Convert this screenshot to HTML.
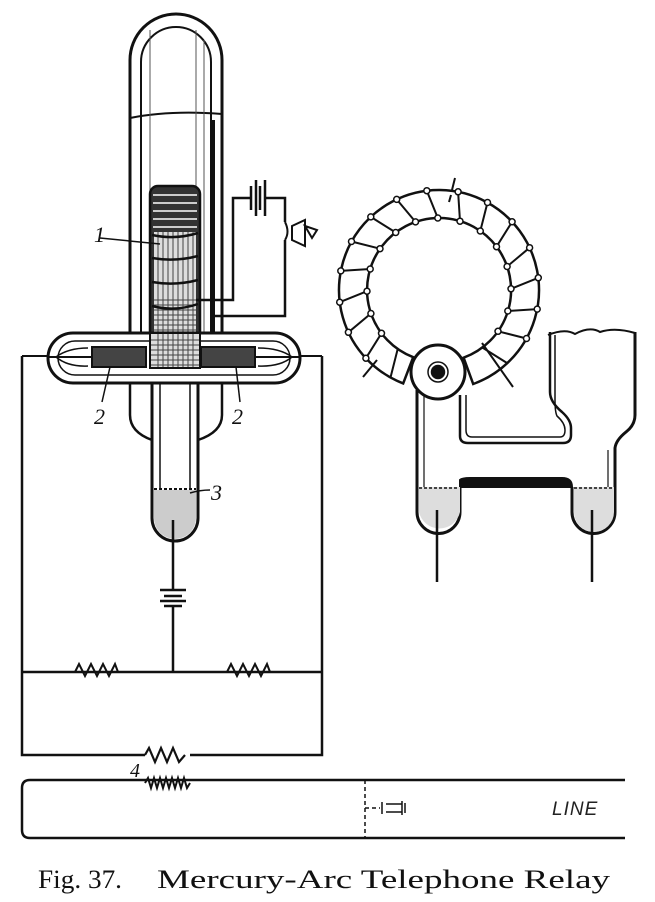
<!DOCTYPE html>
<html><head><style>body{margin:0;background:#fff}svg{display:block}</style></head><body>
<svg width="655" height="902" viewBox="0 0 655 902" xmlns="http://www.w3.org/2000/svg" fill="none" stroke="#111" stroke-width="2.5">
<!-- tall tube -->
<path d="M130 340 V60 A46 46 0 0 1 222 60 V340" stroke-width="3"/>
<path d="M141 340 V62 A35 35 0 0 1 211 62 V340" stroke-width="2"/>
<path d="M130 118 Q170 110 222 114" stroke-width="2"/>
<path d="M150 340 V30 M196 340 V30 M204 340 V40" stroke-width="1" stroke="#555"/>
<line x1="213" y1="120" x2="213" y2="333" stroke-width="4"/>
<!-- coil -->
<rect x="150" y="186" width="50" height="180" rx="8" fill="#333" stroke="#111"/>
<g stroke="#fff" stroke-width="1.4">
<line x1="153" y1="195" x2="197" y2="195"/><line x1="153" y1="203" x2="197" y2="203"/><line x1="153" y1="211" x2="197" y2="211"/><line x1="153" y1="219" x2="197" y2="219"/><line x1="153" y1="227" x2="197" y2="227"/>
</g>
<rect x="154" y="232" width="42" height="130" fill="#ddd" stroke="none"/>
<g stroke="#444" stroke-width="1"><path d="M158 232V362M163 232V362M168 232V362M173 232V362M178 232V362M183 232V362M188 232V362M193 232V362"/><path d="M154 300H196M154 305H196M154 310H196M154 315H196M154 320H196M154 325H196M154 330H196M154 335H196M154 340H196M154 345H196M154 350H196M154 355H196M154 360H196"/></g>
<path d="M152 235 Q175 240 198 233 M152 258 Q175 262 198 256 M152 282 Q175 286 198 280 M152 306 Q175 312 198 304" stroke-width="2.5"/>
<line x1="100" y1="238" x2="160" y2="244" stroke-width="1.5"/>
<text x="94" y="242" font-family="Liberation Serif,serif" font-style="italic" font-size="22" fill="#111" stroke="none">1</text>
<!-- battery/speaker circuit -->
<path d="M196 300 H233 V198 H250 M264 198 H285 V222 M285 240 V316 H215" stroke-width="2.5"/>
<path d="M251 186 V210 M256 180 V216 M260 186 V210 M265 180 V216" stroke-width="2.5"/>
<path d="M285 222 Q290 232 285 240 M292 226 L305 220 V246 L292 240 Z M305 226 L317 230 L312 238 Z" stroke-width="2"/>
<!-- horizontal tube -->
<rect x="48" y="333" width="252" height="50" rx="25" stroke-width="3" fill="#fff"/>
<rect x="58" y="341" width="232" height="34" rx="17" stroke-width="1.5"/>
<rect x="150" y="333" width="50" height="35" fill="#ddd" stroke="none"/>
<g stroke="#444" stroke-width="1"><path d="M158 333V368M163 333V368M168 333V368M173 333V368M178 333V368M183 333V368M188 333V368M193 333V368M150 340H200M150 345H200M150 350H200M150 355H200M150 360H200M150 365H200"/></g>
<rect x="150" y="333" width="50" height="35" stroke-width="2"/>
<rect x="92" y="347" width="54" height="20" fill="#444" stroke-width="2"/>
<rect x="201" y="347" width="54" height="20" fill="#444" stroke-width="2"/>
<path d="M22 356 H48 M300 356 H322 M255 357 H300 M48 357 H92" stroke-width="2"/>
<path d="M258 348 Q280 348 292 357 Q280 367 258 366 M88 348 Q68 348 56 357 Q68 367 88 366" stroke-width="1.5"/>
<line x1="110" y1="367" x2="102" y2="402" stroke-width="1.5"/><line x1="236" y1="367" x2="240" y2="402" stroke-width="1.5"/>
<text x="94" y="424" font-family="Liberation Serif,serif" font-style="italic" font-size="22" fill="#111" stroke="none">2</text>
<text x="232" y="424" font-family="Liberation Serif,serif" font-style="italic" font-size="22" fill="#111" stroke="none">2</text>
<!-- lower tube -->
<path d="M130 383 V415 Q130 432 152 440 M222 383 V415 Q222 432 198 440" stroke-width="2.5"/>
<path d="M152 383 V518 A23 23 0 0 0 198 518 V383" stroke-width="3"/>
<path d="M160 383 V515 A15 15 0 0 0 190 515 V383" stroke-width="1.5"/>
<path d="M154 490 H196 V518 A21 21 0 0 1 154 518 Z" fill="#ccc" stroke="none"/>
<path d="M154 489 H196" stroke-width="2" stroke-dasharray="3 2"/>
<path d="M190 493 Q200 490 210 490" stroke-width="1.5"/>
<text x="211" y="500" font-family="Liberation Serif,serif" font-style="italic" font-size="22" fill="#111" stroke="none">3</text>
<!-- wire, battery -->
<path d="M173 520 V590 M173 606 V672" stroke-width="2.5"/>
<path d="M160 590 H186 M164 596 H182 M160 601 H186 M164 606 H182" stroke-width="2.5"/>
<!-- rectangle circuit -->
<path d="M22 356 V755 H145 M190 755 H322 V356" stroke-width="2.5"/>
<path d="M22 672 H322" stroke-width="2.5"/>
<path d="M75 672 l4 -8 l6 12 l6 -12 l6 12 l6 -12 l6 12 l6 -12 l3 8" stroke-width="2"/>
<path d="M227 672 l4 -8 l6 12 l6 -12 l6 12 l6 -12 l6 12 l6 -12 l3 8" stroke-width="2"/>
<path d="M145 755 l4 -7 l6 14 l6 -14 l6 14 l6 -14 l6 14 l6 -7" stroke-width="2.2"/>
<text x="130" y="777" font-family="Liberation Serif,serif" font-style="italic" font-size="20" fill="#111" stroke="none">4</text>
<path d="M145 783 l3 -5 l3 10 l3 -10 l3 10 l3 -10 l3 10 l3 -10 l3 10 l3 -10 l3 10 l3 -10 l3 10 l3 -10 l3 10 l3 -5" stroke-width="2"/>
<!-- line box -->
<path d="M625 780 H30 Q22 780 22 788 V830 Q22 838 30 838 H625" stroke-width="2.5"/>
<path d="M365 780 V838 M365 808 H380" stroke-width="1.5" stroke-dasharray="4 3"/>
<path d="M382 802 V814 M386 804 H402 M386 812 H402 M402 801 V815 M405 803 V813" stroke-width="1.5"/>
<text x="552" y="815" font-family="Liberation Sans,sans-serif" font-style="italic" font-size="19" fill="#222" stroke="none" letter-spacing="1">LINE</text>
<!-- right torus -->
<path d="M473.2 384 A100 100 0 1 0 403.2 383.4 L413.2 357.2 A72 72 0 1 1 463.6 357.7 Z" stroke-width="2.5" fill="#fff"/>
<g stroke-width="2">
<path d="M397.7 349L390.5 377.5M381.5 333.3L365.9 358.2M370.9 313.5L348.4 332.3M367 291.2L339.7 302.2M370.2 269L340.8 270.9M380 248.7L351.5 241.5M395.7 232.5L370.8 216.9M415.5 221.9L396.7 199.4M437.8 218L426.8 190.7M460 221.2L458.1 191.8M480.3 231L487.5 202.5M496.5 246.7L512.1 221.8M507.1 266.5L529.6 247.7M511 288.8L538.3 277.8M507.8 311L537.2 309.1M498 331.3L526.5 338.5M482.3 347.5L507.2 363.1"/>
</g>
<g stroke-width="1.5" fill="#fff">
<circle cx="381.5" cy="333.3" r="3"/><circle cx="370.9" cy="313.5" r="3"/><circle cx="367" cy="291.2" r="3"/><circle cx="370.2" cy="269" r="3"/><circle cx="380" cy="248.7" r="3"/><circle cx="395.7" cy="232.5" r="3"/><circle cx="415.5" cy="221.9" r="3"/><circle cx="437.8" cy="218" r="3"/><circle cx="460" cy="221.2" r="3"/><circle cx="480.3" cy="231" r="3"/><circle cx="496.5" cy="246.7" r="3"/><circle cx="507.1" cy="266.5" r="3"/><circle cx="511" cy="288.8" r="3"/><circle cx="507.8" cy="311" r="3"/><circle cx="498" cy="331.3" r="3"/>
<circle cx="365.9" cy="358.2" r="3"/><circle cx="348.4" cy="332.3" r="3"/><circle cx="339.7" cy="302.2" r="3"/><circle cx="340.8" cy="270.9" r="3"/><circle cx="351.5" cy="241.5" r="3"/><circle cx="370.8" cy="216.9" r="3"/><circle cx="396.7" cy="199.4" r="3"/><circle cx="426.8" cy="190.7" r="3"/><circle cx="458.1" cy="191.8" r="3"/><circle cx="487.5" cy="202.5" r="3"/><circle cx="512.1" cy="221.8" r="3"/><circle cx="529.6" cy="247.7" r="3"/><circle cx="538.3" cy="277.8" r="3"/><circle cx="537.2" cy="309.1" r="3"/><circle cx="526.5" cy="338.5" r="3"/>
</g>
<path d="M377 360 L363 377" stroke-width="2"/><path d="M482 343 L513 387" stroke-width="2"/>
<path d="M452 190 L455 178 M449 202 L451 195" stroke-width="2"/>
<!-- right tubes -->
<path d="M417 390 V512 A21.5 21.5 0 0 0 460 512 V487 M572 487 V512 A21.5 21.5 0 0 0 615 512 V448 Q616 440 626 432 Q635 425 635 415 V332" stroke-width="3"/>
<path d="M424 395 V510 A14 14 0 0 0 452 510 M580 487 V510 A14 14 0 0 0 608 510 V450" stroke-width="1.2"/>
<path d="M460 395 V436 Q460 443 468 443 H563 Q571 443 571 435 V428 Q571 420 562 412 Q550 402 550 392 V332" stroke-width="2.5"/>
<path d="M466 395 V430 Q466 437 472 437 H560 Q565 437 565 430 Q565 423 557 416 Q555 412 555 400 V335" stroke-width="1.5"/>
<path d="M460 480 Q462 478 470 478 H562 Q572 478 572 487 H460 Z" fill="#111" stroke-width="2"/>
<path d="M548 335 Q565 328 575 334 Q590 326 600 332 Q615 327 635 333" stroke-width="2"/>
<path d="M419 487 H460 V512 A21 21 0 0 1 419 512 Z M574 487 H614 V512 A20 20 0 0 1 574 512 Z" fill="#ddd" stroke="none"/>
<path d="M419 488 H458 M574 488 H613" stroke-width="1.5" stroke-dasharray="3 2"/>
<circle cx="438" cy="372" r="27" stroke-width="3" fill="#fff"/>
<circle cx="438" cy="372" r="6" fill="#111"/>
<circle cx="438" cy="372" r="10" stroke-width="1.5"/>
<path d="M437 510 V582 M592 510 V582" stroke-width="2.5"/>
<text x="447" y="196" font-family="Liberation Serif,serif" font-style="italic" font-size="1" fill="#fff" stroke="none">1</text>
<!-- caption -->
<text x="38" y="888" font-family="Liberation Serif,serif" font-size="26" fill="#111" stroke="none" textLength="84" lengthAdjust="spacingAndGlyphs">Fig. 37.</text>
<text x="157" y="888" font-family="Liberation Serif,serif" font-size="26" fill="#111" stroke="none" textLength="453" lengthAdjust="spacingAndGlyphs">Mercury-Arc Telephone Relay</text>
</svg>
</body></html>
